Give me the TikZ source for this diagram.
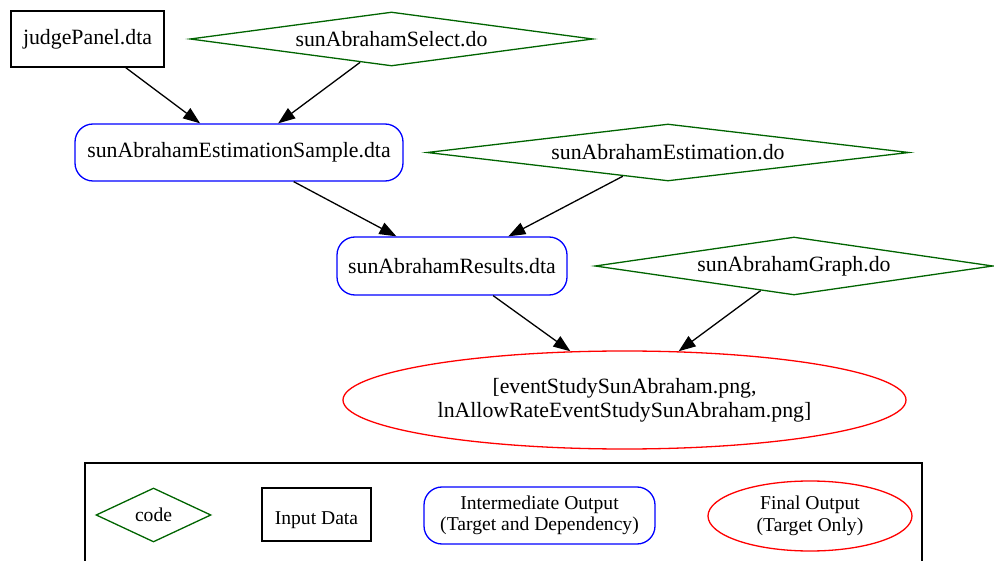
\documentclass[tikz,border=0pt]{standalone}
\usepackage{fontspec}
\setmainfont{Liberation Serif}
\usetikzlibrary{shapes.geometric,arrows.meta}

\definecolor{codegreen}{RGB}{0,100,0}

\tikzset{
  base/.style={line width=1.3pt, inner sep=0pt, align=center,
               font=\fontsize{21.8}{24}\selectfont},
  inputbox/.style={base, draw=black, rectangle},
  codebox/.style={base, draw=codegreen, diamond},
  midbox/.style={base, draw=blue, rectangle, rounded corners=18pt},
  finalbox/.style={base, draw=red, ellipse},
  small/.style={font=\fontsize{19.6}{21.5}\selectfont},
  edge/.style={line width=1.3pt, -{Triangle[length=17pt,width=12.5pt]}}
}
\newcommand{\zw}[1]{\makebox[0pt]{#1}}

\begin{document}
\begin{tikzpicture}[x=1pt, y=-1pt]
  \useasboundingbox (0,0) rectangle (994,561);
  \clip (0,0) rectangle (994,561);

  % workflow
  \node[inputbox, minimum width=153pt, minimum height=56pt] (judge) at (87.5,39) {\zw{judgePanel.dta}};
  \node[codebox, minimum width=403pt, minimum height=54pt] (select) at (391.5,39) {\zw{sunAbrahamSelect.do}};
  \node[midbox, minimum width=328pt, minimum height=57pt] (sample) at (239,152.5) {\zw{sunAbrahamEstimationSample.dta}};
  \node[codebox, minimum width=482pt, minimum height=57pt] (estim) at (668,152.5) {\zw{sunAbrahamEstimation.do}};
  \node[midbox, minimum width=230pt, minimum height=58pt] (results) at (452,266) {\zw{sunAbrahamResults.dta}};
  \node[codebox, minimum width=398pt, minimum height=58pt] (graph) at (794,266) {\zw{sunAbrahamGraph.do}};
  \node[finalbox, minimum width=563pt, minimum height=98pt] (final) at (624.5,400)
    {\zw{[eventStudySunAbraham.png,}\\\zw{lnAllowRateEventStudySunAbraham.png]}};

  \draw[edge] (judge) -- (sample);
  \draw[edge] (select) -- (sample);
  \draw[edge] (sample) -- (results);
  \draw[edge] (estim) -- (results);
  \draw[edge] (results) -- (final.138);
  \draw[edge] (graph) -- (final.42);

  % legend
  \draw[line width=1.3pt] (85,580) -- (85,463) -- (922,463) -- (922,580);
  \node[codebox, small, minimum width=115pt, minimum height=54pt] (lcode) at (153.5,515) {\zw{code}};
  \node[inputbox, small, text height=20pt, text depth=0pt, minimum width=109pt, minimum height=53pt] (linput) at (316.5,514.5) {\zw{Input Data}};
  \node[midbox, small, minimum width=231pt, minimum height=57pt] (lmid) at (539.5,515.5)
    {\zw{Intermediate Output}\\\zw{(Target and Dependency)}};
  \node[finalbox, small, minimum width=204pt, minimum height=70pt] (lfinal) at (810,516)
    {\zw{Final Output}\\\zw{(Target Only)}};
\end{tikzpicture}
\end{document}
